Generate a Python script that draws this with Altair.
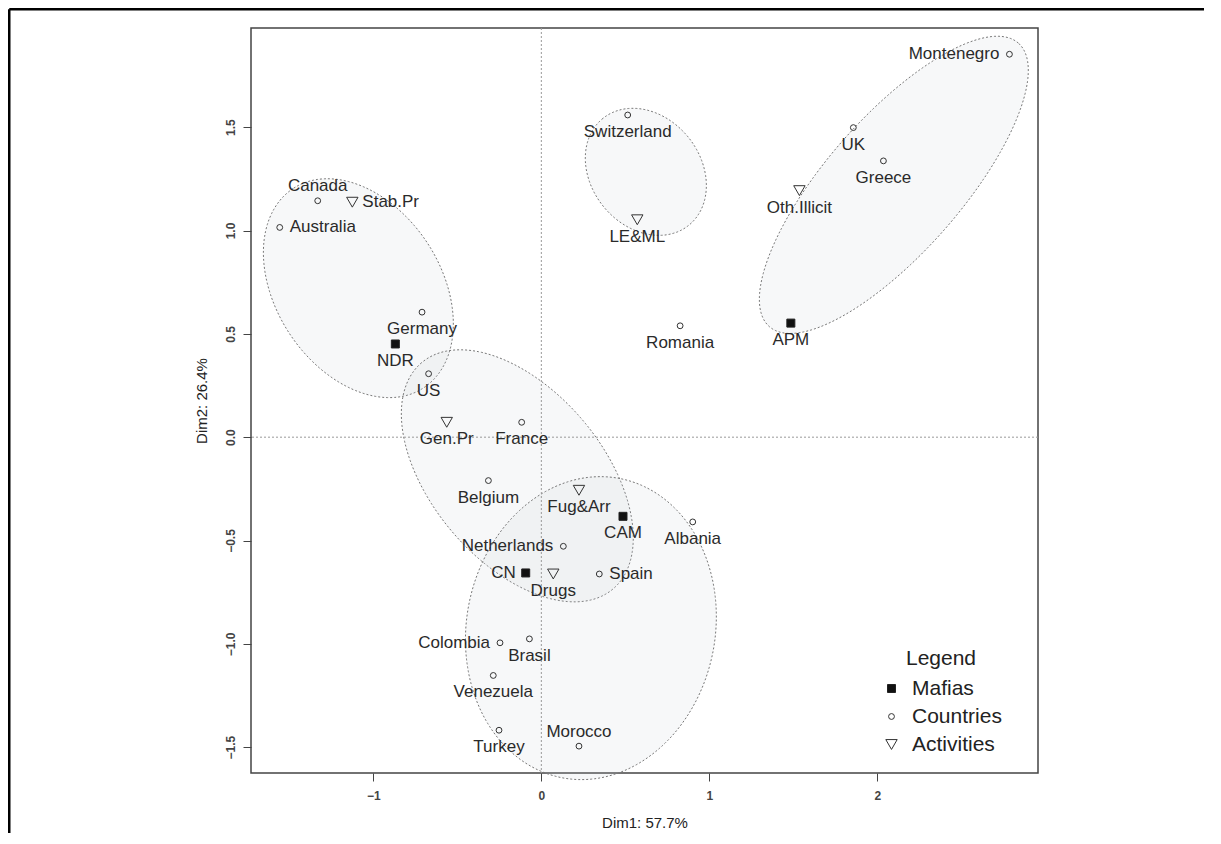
import numpy as np
import pandas as pd
import altair as alt

FONT = "Liberation Sans"

# ---------------- data ----------------
groups = ["Mafias", "Countries", "Activities"]

mafia_names = ["NDR", "APM", "CAM", "CN"]
mafia_x = [-0.869, 1.485, 0.486, -0.093]
mafia_y = [0.451, 0.552, -0.383, -0.657]
mafia_pos = ["below", "below", "below", "left"]

country_names = ["Montenegro", "UK", "Greece", "Switzerland", "Canada", "Australia",
                 "Germany", "US", "France", "Belgium", "Netherlands", "Romania",
                 "Albania", "Spain", "Colombia", "Brasil", "Venezuela", "Turkey", "Morocco"]
country_x = [2.786, 1.857, 2.036, 0.514, -1.331, -1.557, -0.710, -0.671, -0.117, -0.315,
             0.131, 0.826, 0.901, 0.345, -0.246, -0.071, -0.286, -0.252, 0.224]
country_y = [1.853, 1.498, 1.337, 1.559, 1.144, 1.015, 0.605, 0.307, 0.072, -0.210,
             -0.528, 0.539, -0.410, -0.662, -0.995, -0.976, -1.153, -1.418, -1.495]
country_pos = ["left", "below", "below", "below", "above", "right", "below", "below",
               "below", "below", "left", "below", "below", "right", "left", "below",
               "below", "below", "above"]

activity_names = ["Stab.Pr", "LE&ML", "Oth.Illicit", "Gen.Pr", "Fug&Arr", "Drugs"]
activity_x = [-1.125, 0.571, 1.536, -0.563, 0.224, 0.071]
activity_y = [1.137, 1.052, 1.193, 0.072, -0.257, -0.662]
activity_pos = ["right", "below", "below", "below", "below", "below"]

# confidence ellipses: centre, semi-axes (in Dim1 units), screen angle (deg)
ell_cx = [-1.089, 0.622, 2.098, -0.143, 0.295]
ell_cy = [0.721, 1.284, 1.221, -0.187, -0.924]
ell_a = [0.709, 0.408, 1.123, 0.882, 0.907]
ell_b = [0.491, 0.326, 0.402, 0.511, 0.740]
ell_angle = [123.2, 128.7, 48.7, 130.2, 79.1]

x_ticks = [-1, 0, 1, 2]
y_ticks = [-1.5, -1.0, -0.5, 0.0, 0.5, 1.0, 1.5]
x_domain = [-1.728, 2.956]
y_domain = [-1.625, 1.98]

# ---------------- tables ----------------
rows = []
for g, names, xs, ys, ps in [("Mafias", mafia_names, mafia_x, mafia_y, mafia_pos),
                             ("Countries", country_names, country_x, country_y, country_pos),
                             ("Activities", activity_names, activity_x, activity_y, activity_pos)]:
    for n, x, y, p in zip(names, xs, ys, ps):
        rows.append({"name": n, "x": x, "y": y, "pos": p, "group": g})
df = pd.DataFrame(rows)

W, H = 787, 745
k = (H / (y_domain[1] - y_domain[0])) / (W / (x_domain[1] - x_domain[0]))
t = np.linspace(0, 2 * np.pi, 241)
erows = []
for i, (cx, cy, a, b, ang) in enumerate(zip(ell_cx, ell_cy, ell_a, ell_b, ell_angle)):
    th = np.deg2rad(ang)
    u = a * np.cos(t)
    v = b * np.sin(t)
    ex = cx + u * np.cos(th) - v * np.sin(th)
    ey = cy + (u * np.sin(th) + v * np.cos(th)) / k
    for j in range(len(t)):
        erows.append({"ell": i, "i": j, "x": ex[j], "y": ey[j]})
edf = pd.DataFrame(erows)

# ---------------- chart ----------------
x_scale = alt.Scale(domain=x_domain, nice=False, zero=False)
y_scale = alt.Scale(domain=y_domain, nice=False, zero=False)

xax = alt.Axis(values=x_ticks, format="d", title="Dim1: 57.7%", grid=False, domain=False,
               tickSize=8, tickColor="#444", tickWidth=1, labelFont=FONT, labelFontSize=12,
               labelFontWeight="bold", labelColor="#444", labelPadding=9,
               titleFont=FONT, titleFontSize=15, titleFontWeight="normal",
               titleColor="#222", titlePadding=14)
yax = alt.Axis(values=y_ticks, format=".1f", title="Dim2: 26.4%", grid=False, domain=False,
               tickSize=8, tickColor="#444", tickWidth=1, labelFont=FONT, labelFontSize=12,
               labelFontWeight="bold", labelColor="#444", labelPadding=6,
               labelAngle=270, labelAlign="center", labelBaseline="bottom",
               titleFont=FONT, titleFontSize=15, titleFontWeight="normal",
               titleColor="#222", titlePadding=15)

ellipses = alt.Chart(edf).mark_line(
    fill="#c8cad6", fillOpacity=0.14, stroke="#777", strokeWidth=1, strokeDash=[2, 2]
).encode(
    x=alt.X("x:Q", scale=x_scale, axis=xax),
    y=alt.Y("y:Q", scale=y_scale, axis=yax),
    detail="ell:N",
    order="i:Q",
)

vline = alt.Chart(pd.DataFrame({"x": [0]})).mark_rule(
    color="#999", strokeDash=[2, 2], strokeWidth=1
).encode(x=alt.X("x:Q", scale=x_scale))
hline = alt.Chart(pd.DataFrame({"y": [0]})).mark_rule(
    color="#999", strokeDash=[2, 2], strokeWidth=1
).encode(y=alt.Y("y:Q", scale=y_scale))

leg = alt.Legend(title="Legend", orient="none", legendX=630, legendY=620, padding=0,
                 titleFont=FONT, titleFontSize=21, titleFontWeight="normal",
                 titleColor="#222", titleAnchor="middle", titlePadding=9,
                 labelFont=FONT, labelFontSize=21, labelColor="#222", labelOffset=10,
                 rowPadding=6, symbolStrokeWidth=1, symbolOpacity=1)

points = alt.Chart(df).mark_point(opacity=1, strokeWidth=1).encode(
    x=alt.X("x:Q", scale=x_scale),
    y=alt.Y("y:Q", scale=y_scale),
    shape=alt.Shape("group:N", scale=alt.Scale(domain=groups,
                    range=["square", "circle", "triangle-down"]), legend=leg),
    fill=alt.Fill("group:N", scale=alt.Scale(domain=groups,
                  range=["#111111", "transparent", "transparent"]), legend=leg),
    stroke=alt.Stroke("group:N", scale=alt.Scale(domain=groups,
                      range=["#222222", "#333333", "#333333"]), legend=leg),
    size=alt.Size("group:N", scale=alt.Scale(type="ordinal", domain=groups,
                  range=[64, 34, 130]), legend=leg),
)


def labels(pos, **kw):
    return alt.Chart(df).transform_filter(alt.datum.pos == pos).mark_text(
        font=FONT, fontSize=17, color="#2a2a2a", baseline="middle", **kw
    ).encode(x=alt.X("x:Q", scale=x_scale), y=alt.Y("y:Q", scale=y_scale), text="name:N")


lab_below = labels("below", align="center", dy=17)
lab_above = labels("above", align="center", dy=-14.5)
lab_left = labels("left", align="right", dx=-10)
lab_right = labels("right", align="left", dx=10)

bdf = pd.DataFrame({"b": [0]})
border_left = alt.Chart(bdf).mark_rule(color="#000", strokeWidth=2.5).encode(
    x=alt.value(-241.75), y=alt.value(-18.75), y2=alt.value(805))
border_top = alt.Chart(bdf).mark_rule(color="#000", strokeWidth=2.5).encode(
    x=alt.value(-241.75), x2=alt.value(953), y=alt.value(-18.75))

chart = alt.layer(
    ellipses, vline, hline, points, lab_below, lab_above, lab_left, lab_right,
    border_left, border_top
).properties(
    width=W, height=H, padding=0, background="white"
).configure_view(stroke="#444", strokeWidth=1.5)

chart.save("out.html", embed_options={"renderer": "svg", "actions": False})
